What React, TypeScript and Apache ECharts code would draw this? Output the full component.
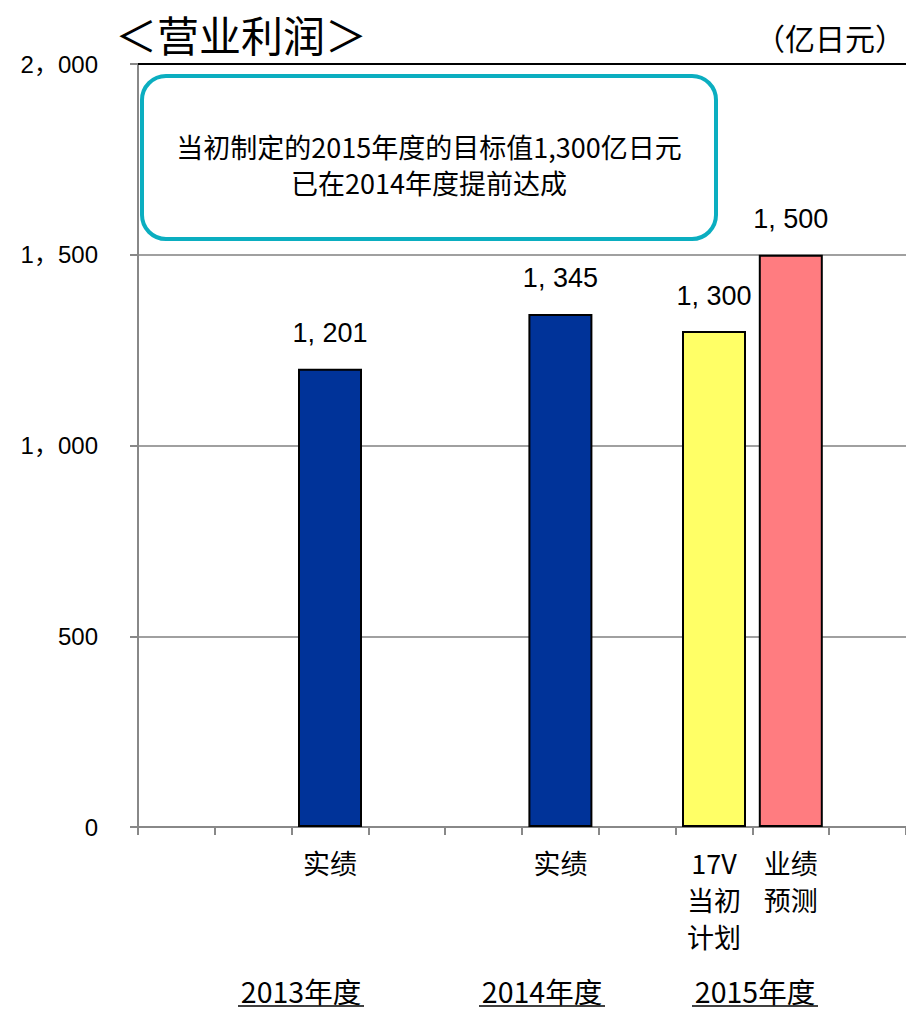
import React, { useEffect, useRef } from "react";
import * as echarts from "echarts";

const categories = ["", "", "实绩", "", "", "实绩", "", "17V\n当初\n计划", "业绩\n预测", ""];
const values: (number | null)[] = [null, null, 1201, null, null, 1345, null, 1300, 1500, null];
const barColors: (string | null)[] = [null, null, "#003399", null, null, "#003399", null, "#FFFF66", "#FF7C80", null];
const yearLabels = ["2013年度", "2014年度", "2015年度"];
const yMin = 0;
const yMax = 2000;
const yInterval = 500;
const titleText = "＜营业利润＞";
const unitText = "（亿日元）";
const noteLines = ["当初制定的2015年度的目标值1,300亿日元", "已在2014年度提前达成"];

const CJK = "'Noto Sans CJK SC', 'Noto Sans CJK JP', sans-serif";
const NUM = "'Liberation Sans', 'Noto Sans CJK JP', sans-serif";

const fmtAxis = (v: number) =>
  v >= 1000 ? Math.floor(v / 1000) + "，" + String(v % 1000).padStart(3, "0") : String(v);
const fmtLabel = (v: number) =>
  v >= 1000 ? Math.floor(v / 1000) + ", " + String(v % 1000).padStart(3, "0") : String(v);

export default function App() {
  const ref = useRef<HTMLDivElement>(null);
  useEffect(() => {
    document.body.style.margin = "0";
    if (!ref.current) return;
    const chart = echarts.init(ref.current, null, { renderer: "svg" });
    const yearX = [301, 542, 755];
    const noteY = [146, 182];
    const graphics: any[] = [
      {
        type: "rect",
        shape: { x: 142, y: 76, width: 574, height: 163, r: 24 },
        style: { fill: "#fff", stroke: "#0BAEC0", lineWidth: 4 },
        z: 10,
      },
      {
        type: "text",
        x: 905,
        y: 37,
        style: {
          text: unitText,
          font: `30px ${CJK}`,
          fill: "#000",
          align: "right",
          verticalAlign: "middle",
        },
      },
    ];
    noteLines.forEach((t, i) => {
      graphics.push({
        type: "text",
        x: 429,
        y: noteY[i],
        style: {
          text: t,
          font: `27px ${CJK}`,
          fill: "#000",
          align: "center",
          verticalAlign: "middle",
          lineHeight: 30,
        },
        z: 11,
      });
    });
    yearLabels.forEach((t, i) => {
      graphics.push({
        type: "text",
        x: yearX[i],
        y: 990,
        style: {
          text: t,
          font: `28.5px ${CJK}`,
          fill: "#000",
          align: "center",
          verticalAlign: "middle",
          lineHeight: 28,
        },
      });
      graphics.push({
        type: "line",
        shape: { x1: yearX[i] - 63, y1: 1006, x2: yearX[i] + 63, y2: 1006 },
        style: { stroke: "#000", lineWidth: 1.5 },
      });
    });

    chart.setOption({
      animation: false,
      title: {
        text: titleText,
        left: 110,
        top: 7,
        textStyle: { fontSize: 42, fontWeight: "normal", color: "#000", fontFamily: CJK },
      },
      grid: { left: 138, right: 0, top: 64, bottom: 183, containLabel: false },
      xAxis: [
        {
          type: "category",
          data: categories,
          boundaryGap: true,
          axisLine: { lineStyle: { color: "#888", width: 2 } },
          axisTick: { show: true, interval: 0, length: 8, lineStyle: { color: "#888", width: 2 } },
          axisLabel: {
            interval: 0,
            color: "#000",
            fontSize: 27,
            lineHeight: 37,
            margin: 17,
            fontFamily: CJK,
          },
        },
        {
          type: "category",
          data: categories,
          position: "top",
          axisLine: { show: true, lineStyle: { color: "#000", width: 2 } },
          axisTick: { show: false },
          axisLabel: { show: false },
        },
      ],
      yAxis: {
        type: "value",
        min: yMin,
        max: yMax,
        interval: yInterval,
        axisLine: { show: true, lineStyle: { color: "#888", width: 2 } },
        axisTick: { show: true, length: 8, lineStyle: { color: "#888", width: 2 } },
        splitLine: { show: true, lineStyle: { color: "#A0A0A0", width: 2 } },
        axisLabel: {
          color: "#000",
          fontSize: 24,
          margin: 40,
          fontFamily: NUM,
          formatter: (v: number) => fmtAxis(v),
        },
      },
      series: [
        {
          type: "bar",
          xAxisIndex: 0,
          barWidth: 64,
          data: values.map((v, i) =>
            v == null
              ? "-"
              : { value: v, itemStyle: { color: barColors[i], borderColor: "#000", borderWidth: 2 } }
          ),
          label: {
            show: true,
            position: "top",
            distance: 22,
            color: "#000",
            fontSize: 27,
            fontFamily: NUM,
            formatter: (p: any) => fmtLabel(p.value),
          },
        },
      ],
      graphic: graphics,
    });
    return () => chart.dispose();
  }, []);
  return <div ref={ref} style={{ width: 906, height: 1010 }} />;
}
